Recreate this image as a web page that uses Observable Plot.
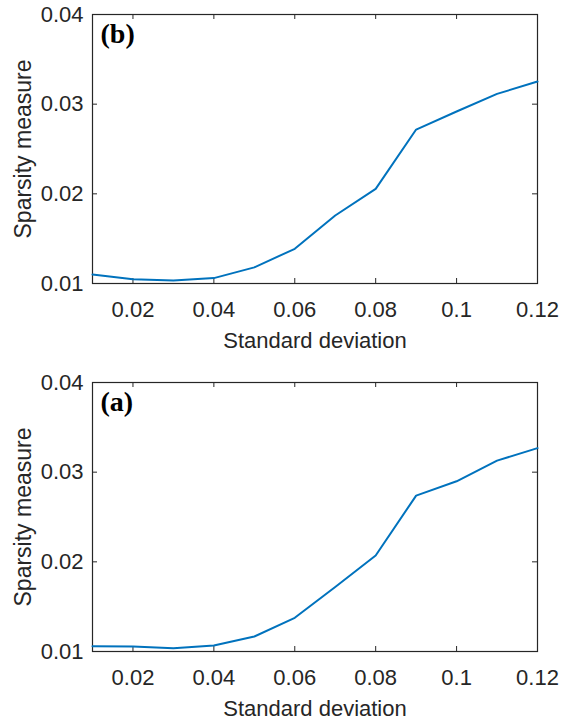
<!DOCTYPE html>
<html><head><meta charset="utf-8">
<script src="https://cdn.jsdelivr.net/npm/d3@7"></script>
<script src="https://cdn.jsdelivr.net/npm/@observablehq/plot@0.6"></script>
<style>body{margin:0;background:#fff} svg{display:block}</style>
</head><body><div id="chart"></div>
<script>
const stdDev = [0.01, 0.02, 0.03, 0.04, 0.05, 0.06, 0.07, 0.08, 0.09, 0.10, 0.11, 0.12];
const sparsityB = [0.0110, 0.01048, 0.01033, 0.0106, 0.0118, 0.01387, 0.01758, 0.02056, 0.02717, 0.02918, 0.03115, 0.03252];
const sparsityA = [0.01059, 0.01056, 0.01037, 0.01067, 0.01167, 0.01376, 0.01720, 0.02070, 0.02739, 0.02898, 0.03129, 0.03268];
const xTicks = [0.02, 0.04, 0.06, 0.08, 0.1, 0.12];
const yTicks = [0.01, 0.02, 0.03, 0.04];
const panelLabels = ["(b)", "(a)"];
const xLabel = "Standard deviation";
const yLabel = "Sparsity measure";

const fmt = d => String(+d.toFixed(2));
const ink = "#262626";
const W = 561, ML = 92, MR = 24, MT = 14, TICK = 5;

function panel(values, tag, height, marginBottom) {
  const rows = stdDev.map((s, i) => ({s, v: values[i]}));
  const ph = height - MT - marginBottom, pw = W - ML - MR;
  return Plot.plot({
    width: W, height, marginTop: MT, marginLeft: ML, marginRight: MR, marginBottom,
    style: {fontFamily: "'Liberation Sans', Arial, sans-serif", fontSize: "22px", color: ink, background: "#fff"},
    x: {domain: [0.01, 0.12]},
    y: {domain: [0.01, 0.04]},
    marks: [
      Plot.axisX(xTicks, {anchor: "bottom", tickSize: 0, tickPadding: 18, tickFormat: fmt, label: xLabel, labelAnchor: "center", labelOffset: 64, labelArrow: "none"}),
      Plot.axisY(yTicks, {anchor: "left", tickSize: 0, tickPadding: 9, tickFormat: fmt, label: null}),
      Plot.text([yLabel], {frameAnchor: "left", rotate: -90, dx: -69, text: d => d, textAnchor: "middle", lineAnchor: "middle", fontSize: 23, fill: ink}),
      Plot.tickX(xTicks, {x: d => d, insetTop: ph - TICK, stroke: ink}),
      Plot.tickX(xTicks, {x: d => d, insetBottom: ph - TICK, stroke: ink}),
      Plot.tickY(yTicks, {y: d => d, insetRight: pw - TICK, stroke: ink}),
      Plot.tickY(yTicks, {y: d => d, insetLeft: pw - TICK, stroke: ink}),
      Plot.frame({stroke: ink, strokeWidth: 1.2}),
      Plot.line(rows, {x: "s", y: "v", stroke: "#0072BD", strokeWidth: 2}),
      Plot.text([tag], {frameAnchor: "top-left", dx: 8, dy: 9, text: d => d, fontFamily: "'Liberation Serif', 'Times New Roman', serif", fontWeight: "bold", fontSize: 28, fill: "#000"})
    ]
  });
}

const root = document.getElementById("chart");
root.appendChild(panel(sparsityB, panelLabels[0], 368, 85));
root.appendChild(panel(sparsityA, panelLabels[1], 355, 72));
</script>
</body></html>
